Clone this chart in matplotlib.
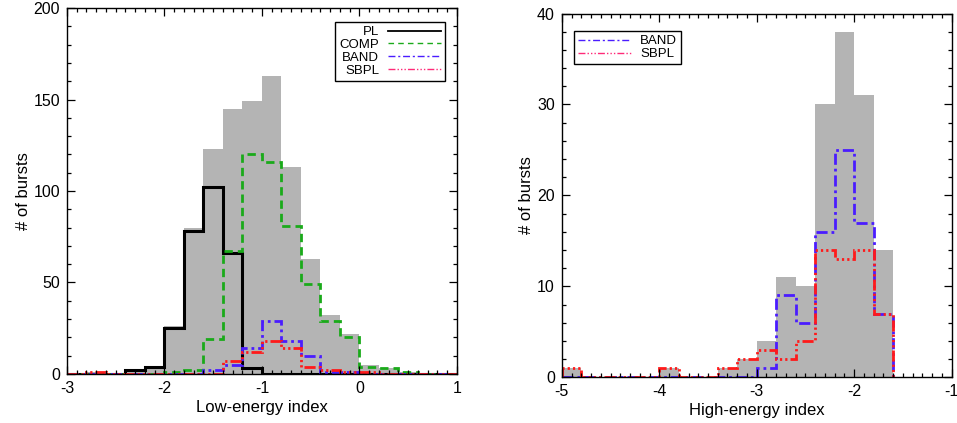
import numpy as np
import matplotlib
matplotlib.use("Agg")
import matplotlib.pyplot as plt
from matplotlib.ticker import MultipleLocator
from matplotlib.lines import Line2D

plt.rcParams['font.family'] = ['Liberation Sans', 'DejaVu Sans']
plt.rcParams['axes.unicode_minus'] = False

# low-energy index histograms (bins of 0.2 from -3 to 1)
low_edges = np.round(np.arange(-3.0, 1.0001, 0.2), 1)
low_all = [0, 1, 0, 2, 4, 26, 80, 123, 145, 149, 163, 113, 63, 32, 22, 5, 3, 1, 0, 0]
low_pl = [0, 0, 0, 2, 4, 25, 78, 102, 66, 3, 0, 0, 0, 0, 0, 0, 0, 0, 0, 0]
low_comp = [0, 0, 0, 0, 0, 1, 2, 19, 67, 120, 116, 81, 49, 29, 20, 4, 3, 1, 0, 0]
low_band = [0, 0, 0, 0, 0, 0, 0, 2, 5, 14, 29, 18, 10, 1, 1, 0, 0, 0, 0, 0]
low_sbpl = [0, 1, 0, 0, 0, 0, 0, 0, 7, 12, 18, 14, 4, 2, 1, 1, 0, 0, 0, 0]

# high-energy index histograms (bins of 0.2 from -5 to -1.6)
high_edges = np.round(np.arange(-5.0, -1.5999, 0.2), 1)
high_all = [1, 0, 0, 0, 0, 1, 0, 0, 1, 2, 4, 11, 10, 30, 38, 31, 14]
high_band = [0, 0, 0, 0, 0, 0, 0, 0, 0, 0, 1, 9, 6, 16, 25, 17, 7]
high_sbpl = [1, 0, 0, 0, 0, 1, 0, 0, 1, 2, 3, 2, 4, 14, 13, 14, 7]

gray = '#b4b4b4'
green = '#1aaa1a'
blue = '#4a1cff'
red = '#ff1a1a'
pink = '#ff2a78'

ls_comp = (0, (3.0, 1.8))
ls_band = (0, (4.0, 1.4, 1.0, 1.4))
ls_sbpl = (0, (4.0, 1.1, 0.8, 1.1, 0.8, 1.1, 0.8, 1.1))

fig = plt.figure(figsize=(9.57, 4.23), dpi=100)
ax1 = fig.add_axes([0.070, 0.116, 0.4075, 0.865])
ax2 = fig.add_axes([0.587, 0.108, 0.4075, 0.860])


def style_axis(ax, xmaj, xmin, ymaj, ymin):
    ax.xaxis.set_major_locator(MultipleLocator(xmaj))
    ax.xaxis.set_minor_locator(MultipleLocator(xmin))
    ax.yaxis.set_major_locator(MultipleLocator(ymaj))
    ax.yaxis.set_minor_locator(MultipleLocator(ymin))
    ax.tick_params(which='both', direction='in', top=True, right=True,
                   labelsize=11.5, width=0.9, pad=5)
    ax.tick_params(which='major', length=6)
    ax.tick_params(which='minor', length=3)
    for s in ax.spines.values():
        s.set_linewidth(1.0)


# left panel
ax1.stairs(low_all, low_edges, fill=True, color=gray, lw=0)
ax1.stairs(low_pl, low_edges, color='black', lw=2.2)
ax1.stairs(low_comp, low_edges, color=green, lw=2.0, linestyle=ls_comp)
ax1.stairs(low_band, low_edges, color=blue, lw=2.0, linestyle=ls_band)
ax1.stairs(low_sbpl, low_edges, color=red, lw=2.0, linestyle=ls_sbpl)
ax1.set_xlim(-3, 1)
ax1.set_ylim(0, 200)
style_axis(ax1, 1, 0.1, 50, 10)
ax1.set_xlabel("Low-energy index", fontsize=12, labelpad=3)
ax1.set_ylabel("# of bursts", fontsize=12, labelpad=2)

handles1 = [Line2D([], [], color='black', lw=1.3),
            Line2D([], [], color=green, lw=1.0, linestyle=(0, (4, 3))),
            Line2D([], [], color=blue, lw=1.0, linestyle=(0, (5, 2, 1.5, 2))),
            Line2D([], [], color=pink, lw=1.0, linestyle=(0, (5, 1.5, 1, 1.5, 1, 1.5, 1, 1.5)))]
leg1 = ax1.legend(handles1, ["PL", "COMP", "BAND", "SBPL"], loc='upper right',
                  fontsize=9.5, markerfirst=False, handlelength=4.0,
                  fancybox=False, edgecolor='black', framealpha=1,
                  borderpad=0.3, labelspacing=0.05, handletextpad=0.7,
                  alignment='right', bbox_to_anchor=(0.986, 0.98))
leg1.get_frame().set_linewidth(1.0)

# right panel
ax2.stairs(high_all, high_edges, fill=True, color=gray, lw=0)
ax2.stairs(high_band, high_edges, color=blue, lw=2.0, linestyle=ls_band)
ax2.stairs(high_sbpl, high_edges, color=red, lw=2.0, linestyle=ls_sbpl)
ax2.set_xlim(-5, -1)
ax2.set_ylim(0, 40)
style_axis(ax2, 1, 0.1, 10, 2)
ax2.set_xlabel("High-energy index", fontsize=12, labelpad=3)
ax2.set_ylabel("# of bursts", fontsize=12, labelpad=2)

handles2 = [Line2D([], [], color=blue, lw=1.0, linestyle=(0, (5, 2, 1.5, 2))),
            Line2D([], [], color=pink, lw=1.0, linestyle=(0, (5, 1.5, 1, 1.5, 1, 1.5, 1, 1.5)))]
leg2 = ax2.legend(handles2, ["BAND", "SBPL"], loc='upper left',
                  fontsize=9.5, handlelength=4.0,
                  fancybox=False, edgecolor='black', framealpha=1,
                  borderpad=0.3, labelspacing=0.05, handletextpad=0.7,
                  bbox_to_anchor=(0.015, 0.97))
leg2.get_frame().set_linewidth(1.0)

fig.savefig("out.png", dpi=100)
